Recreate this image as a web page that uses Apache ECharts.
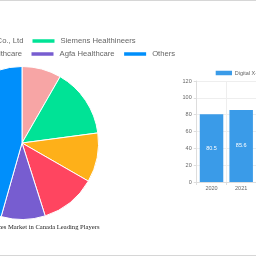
<!DOCTYPE html>
<html>
<head>
<meta charset="utf-8">
<script src="https://cdn.jsdelivr.net/npm/echarts@6/dist/echarts.min.js"></script>
<style>
  html, body { margin: 0; padding: 0; background: #fff; }
  #main { width: 256px; height: 256px; }
</style>
</head>
<body>
<div id="main"></div>
<script>
// leading players share (%), clockwise from 12 o'clock
const playerNames = ['Konica Minolta Co., Ltd', 'Siemens Healthineers', 'Fujifilm Holdings Corporation', 'GE Healthcare', 'Agfa Healthcare', 'Others'];
const playerShares = [8.3, 14.6, 10.4, 11.8, 9.3, 45.6];

// market size bars
const years = ['2020', '2021'];
const marketSize = [80.5, 85.6];
const sizeSeriesName = 'Digital X-ray Devices Market Size (Billion USD)';

const pieTitle = 'Digital X-ray Devices Market in Canada Leading Players';

let chart = echarts.init(document.getElementById('main'), null, {renderer: 'canvas'});

const sans = 'Liberation Sans, Arial, sans-serif';
const legendFont = 7.7;

// measure legend text so the visible items land where they are in the picture
let ctx = document.createElement('canvas').getContext('2d');
ctx.font = legendFont + 'px ' + sans;
function itemW(name) {
    return 24 + 5 + ctx.measureText(name).width;
}
let left1 = 33 - 3.5 - 7 - itemW(playerNames[0]);
let left2 = 31 - 3.5 - 7.5 - itemW(playerNames[3]) - 7.5 - itemW(playerNames[2]);

let legendText = {fontSize: legendFont, fontFamily: sans, color: '#666', lineHeight: 10};

let option = {
    animation: false,
    backgroundColor: '#fff',
    color: ['#f7a5a5', '#00e396', '#feb019', '#ff4560', '#775dd0', '#008ffb'],
    legend: [
        {
            data: playerNames.slice(0, 2),
            left: left1,
            top: 36,
            width: 800,
            padding: 0,
            itemGap: 7,
            itemWidth: 24,
            itemHeight: 5.5,
            icon: 'rect',
            textStyle: legendText
        },
        {
            data: playerNames.slice(2),
            left: left2,
            top: 49,
            width: 800,
            padding: 0,
            itemGap: 7.5,
            itemWidth: 24,
            itemHeight: 5.5,
            icon: 'rect',
            textStyle: legendText
        },
        {
            data: [sizeSeriesName],
            left: 215.7,
            top: 69,
            width: 800,
            padding: 0,
            itemWidth: 16.3,
            itemHeight: 4.5,
            icon: 'rect',
            textStyle: {fontSize: 5.5, fontFamily: sans, color: '#666', lineHeight: 8, padding: [0, 0, 0, -2.3]}
        }
    ],
    grid: {
        left: 196.7,
        top: 81,
        width: 64,
        height: 101,
        containLabel: false
    },
    xAxis: {
        type: 'category',
        data: years,
        axisLine: {lineStyle: {color: '#ddd', width: 1}},
        axisTick: {show: true, length: 3, lineStyle: {color: '#ddd'}},
        axisLabel: {fontSize: 5.5, fontFamily: sans, color: '#666', margin: 3.5},
        splitLine: {show: true, lineStyle: {color: '#eee', width: 1}}
    },
    yAxis: {
        type: 'value',
        min: 0,
        max: 120,
        interval: 20,
        axisLine: {show: true, lineStyle: {color: '#ddd', width: 1}},
        axisTick: {show: true, length: 3, lineStyle: {color: '#ddd'}},
        axisLabel: {fontSize: 5.5, fontFamily: sans, color: '#666', margin: 5},
        splitLine: {show: true, lineStyle: {color: '#eee', width: 1}}
    },
    series: [
        {
            type: 'pie',
            center: [22, 143],
            radius: 76.5,
            startAngle: 90,
            clockwise: true,
            label: {show: false},
            labelLine: {show: false},
            itemStyle: {borderColor: '#fff', borderWidth: 1},
            data: playerNames.map((n, i) => ({name: n, value: playerShares[i]}))
        },
        {
            type: 'bar',
            name: sizeSeriesName,
            data: marketSize,
            barWidth: 23.5,
            itemStyle: {color: '#3a9be8'},
            label: {show: true, position: 'inside', color: '#fff', fontSize: 5.5, fontFamily: sans}
        }
    ],
    graphic: [
        {type: 'rect', shape: {x: 0, y: 0, width: 256, height: 1}, style: {fill: '#d6d6d6'}, silent: true},
        {type: 'rect', shape: {x: 0, y: 255, width: 256, height: 1}, style: {fill: '#d6d6d6'}, silent: true},
        {
            type: 'text',
            x: 99.5,
            y: 227,
            style: {
                text: pieTitle,
                fontSize: 6.6,
                fontFamily: 'Liberation Serif, Times New Roman, serif',
                fill: '#222',
                align: 'right',
                verticalAlign: 'middle'
            }
        }
    ]
};

chart.setOption(option);
</script>
</body>
</html>
